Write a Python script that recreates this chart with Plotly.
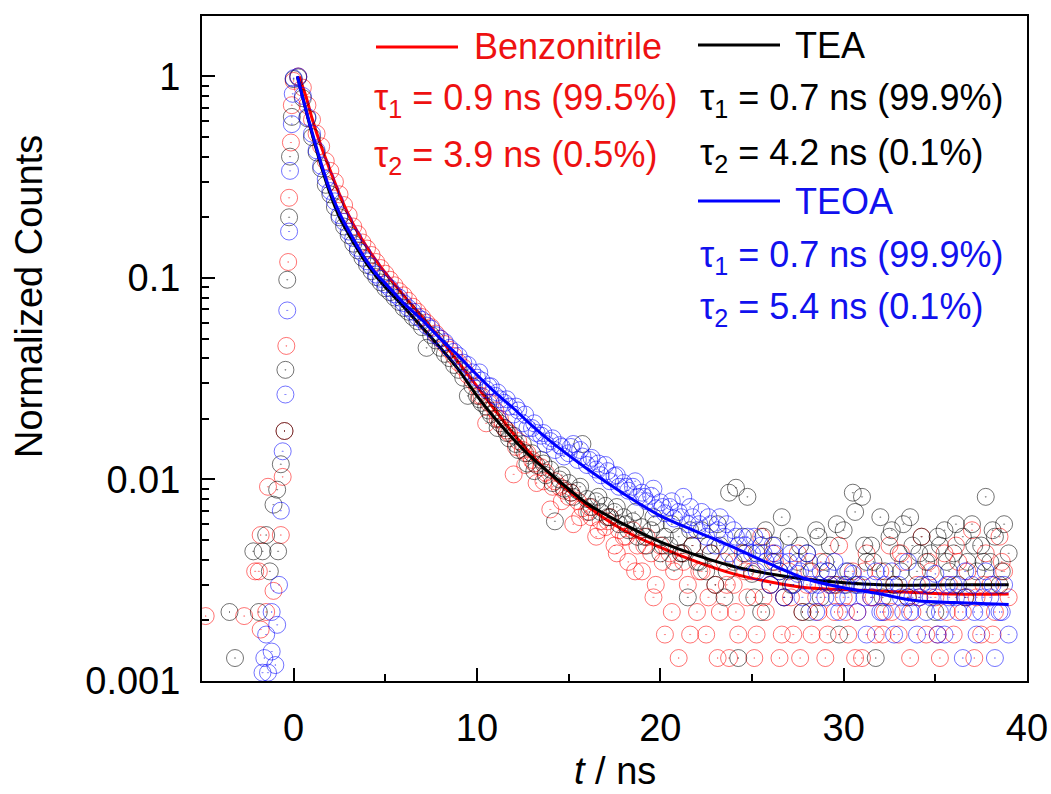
import plotly.graph_objects as go

# ---------------- data ----------------
# common decay time grid (ns)
t_decay = [
    0.00, 0.25, 0.50, 0.75, 1.00, 1.25, 1.50, 1.75,
    2.00, 2.25, 2.50, 2.75, 3.00, 3.25, 3.50, 3.75,
    4.00, 4.25, 4.50, 4.75, 5.00, 5.25, 5.50, 5.75,
    6.00, 6.25, 6.50, 6.75, 7.00, 7.25, 7.50, 7.75,
    8.00, 8.25, 8.50, 8.75, 9.00, 9.25, 9.50, 9.75,
    10.00, 10.25, 10.50, 10.75, 11.00, 11.25, 11.50, 11.75,
    12.00, 12.25, 12.50, 12.75, 13.00, 13.25, 13.50, 13.75,
    14.00, 14.25, 14.50, 14.75, 15.00, 15.25, 15.50, 15.75,
    16.00, 16.25, 16.50, 16.75, 17.00, 17.25, 17.50, 17.75,
    18.00, 18.25, 18.50, 18.75, 19.00, 19.25, 19.50, 19.75,
    20.00, 20.25, 20.50, 20.75, 21.00, 21.25, 21.50, 21.75,
    22.00, 22.25, 22.50, 22.75, 23.00, 23.25, 23.50, 23.75,
    24.00, 24.25, 24.50, 24.75, 25.00, 25.25, 25.50, 25.75,
    26.00, 26.25, 26.50, 26.75, 27.00, 27.25, 27.50, 27.75,
    28.00, 28.25, 28.50, 28.75, 29.00, 29.25, 29.50, 29.75,
    30.00, 30.25, 30.50, 30.75, 31.00, 31.25, 31.50, 31.75,
    32.00, 32.25, 32.50, 32.75, 33.00, 33.25, 33.50, 33.75,
    34.00, 34.25, 34.50, 34.75, 35.00, 35.25, 35.50, 35.75,
    36.00, 36.25, 36.50, 36.75, 37.00, 37.25, 37.50, 37.75,
    38.00, 38.25, 38.50, 38.75, 39.00,
]

benz_counts = [
    0.95, 1.00, 0.88, 0.72, 0.61, 0.52, 0.45, 0.38,
    0.34, 0.30, 0.26, 0.23, 0.205, 0.18, 0.165, 0.15,
    0.14, 0.13, 0.12, 0.112, 0.105, 0.098, 0.092, 0.086,
    0.082, 0.077, 0.072, 0.068, 0.064, 0.060, 0.057, 0.053,
    0.050, 0.047, 0.044, 0.041, 0.038, 0.036, 0.033, 0.031,
    0.029, 0.026, 0.019, 0.024, 0.022, 0.020, 0.018, 0.017,
    0.0106, 0.0155, 0.0140, 0.0135, 0.0125, 0.0096, 0.0115, 0.0108,
    0.0071, 0.0098, 0.0092, 0.0088, 0.0082, 0.0060, 0.0078, 0.0072,
    0.0069, 0.0065, 0.0052, 0.0062, 0.0058, 0.0065, 0.0047, 0.0056,
    0.0052, 0.0039, 0.0056, 0.0047, 0.0035, 0.0052, 0.0043, 0.0030,
    0.0047, 0.0017, 0.0043, 0.0035, 0.0013, 0.0039, 0.0030, 0.0047,
    0.0022, 0.0035, 0.0017, 0.0043, 0.0030, 0.0022, 0.0039, 0.0013,
    0.0030, 0.0017, 0.0043, 0.0026, 0.0035, 0.0017, 0.0052, 0.0022,
    0.0030, 0.0039, 0.0013, 0.0026, 0.0035, 0.0017, 0.0043, 0.0022,
    0.0030, 0.0017, 0.0026, 0.0039, 0.0013, 0.0030, 0.0022, 0.0047,
    0.0026, 0.0017, 0.0035, 0.0022, 0.0013, 0.0043, 0.0026, 0.0017,
    0.0035, 0.0022, 0.0047, 0.0030, 0.0017, 0.0039, 0.0026, 0.0022,
    0.0030, 0.0052, 0.0017, 0.0035, 0.0026, 0.0013, 0.0043, 0.0030,
    0.0017, 0.0039, 0.0022, 0.0035, 0.0056, 0.0026, 0.0017, 0.0043,
    0.0030, 0.0022, 0.0052, 0.0035, 0.0026,
]

tea_counts = [
    0.97, 0.99, 0.78, 0.62, 0.50, 0.42, 0.35, 0.29,
    0.26, 0.225, 0.20, 0.18, 0.163, 0.148, 0.137, 0.126,
    0.116, 0.108, 0.101, 0.095, 0.089, 0.085, 0.080, 0.076,
    0.071, 0.068, 0.064, 0.061, 0.057, 0.045, 0.052, 0.049,
    0.045, 0.042, 0.040, 0.037, 0.035, 0.032, 0.026, 0.029,
    0.026, 0.024, 0.023, 0.021, 0.020, 0.019, 0.018, 0.016,
    0.0165, 0.014, 0.015, 0.012, 0.0135, 0.0118, 0.0125, 0.0105,
    0.0112, 0.0062, 0.0100, 0.0090, 0.0096, 0.0082, 0.0088, 0.0150,
    0.0080, 0.0073, 0.0078, 0.0069, 0.0074, 0.0065, 0.0069, 0.0060,
    0.0065, 0.0056, 0.0062, 0.0052, 0.0058, 0.0047, 0.0056, 0.0060,
    0.0043, 0.0052, 0.0047, 0.0039, 0.0052, 0.0043, 0.0026, 0.0047,
    0.0039, 0.0056, 0.0035, 0.0043, 0.0030, 0.0047, 0.0026, 0.0086,
    0.0039, 0.0013, 0.0052, 0.0082, 0.0034, 0.0043, 0.0022, 0.0056,
    0.0030, 0.0047, 0.0035, 0.0026, 0.0052, 0.0030, 0.0039, 0.0022,
    0.0043, 0.0035, 0.0056, 0.0026, 0.0039, 0.0047, 0.0030, 0.0017,
    0.0056, 0.0035, 0.0086, 0.0030, 0.0082, 0.0039, 0.0047, 0.0013,
    0.0065, 0.0035, 0.0052, 0.0030, 0.0043, 0.0060, 0.0026, 0.0047,
    0.0035, 0.0052, 0.0039, 0.0043, 0.0022, 0.0047, 0.0056, 0.0035,
    0.0043, 0.0030, 0.0052, 0.0039, 0.0060, 0.0035, 0.0047, 0.0082,
    0.0039, 0.0052, 0.0030, 0.0060, 0.0043,
]

teoa_counts = [
    0.98, 1.00, 0.80, 0.63, 0.52, 0.43, 0.36, 0.31,
    0.27, 0.24, 0.205, 0.19, 0.17, 0.158, 0.141, 0.133,
    0.121, 0.114, 0.104, 0.099, 0.093, 0.089, 0.083, 0.080,
    0.075, 0.071, 0.068, 0.064, 0.062, 0.058, 0.056, 0.052,
    0.050, 0.048, 0.045, 0.043, 0.041, 0.038, 0.037, 0.034,
    0.032, 0.031, 0.028, 0.029, 0.026, 0.025, 0.024, 0.023,
    0.021, 0.022, 0.019, 0.018, 0.018, 0.017, 0.0165, 0.015,
    0.0155, 0.014, 0.0148, 0.013, 0.0135, 0.015, 0.0125, 0.013,
    0.0118, 0.0128, 0.0112, 0.0105, 0.0118, 0.0098, 0.0104, 0.0092,
    0.0096, 0.0088, 0.0092, 0.0082, 0.0086, 0.0078, 0.0083, 0.0072,
    0.0077, 0.0068, 0.0073, 0.0064, 0.0069, 0.0082, 0.0060, 0.0065,
    0.0056, 0.0069, 0.0052, 0.0060, 0.0047, 0.0065, 0.0052, 0.0043,
    0.0056, 0.0047, 0.0039, 0.0052, 0.0043, 0.0035, 0.0047, 0.0039,
    0.0030, 0.0043, 0.0035, 0.0026, 0.0039, 0.0030, 0.0034, 0.0026,
    0.0043, 0.0030, 0.0022, 0.0035, 0.0026, 0.0030, 0.0039, 0.0022,
    0.0030, 0.0026, 0.0034, 0.0022, 0.0030, 0.0017, 0.0026, 0.0035,
    0.0022, 0.0030, 0.0026, 0.0017, 0.0030, 0.0022, 0.0039, 0.0026,
    0.0017, 0.0030, 0.0022, 0.0026, 0.0034, 0.0022, 0.0017, 0.0026,
    0.0030, 0.0022, 0.0013, 0.0026, 0.0030, 0.0017, 0.0022, 0.0035,
    0.0026, 0.0013, 0.0022, 0.0030, 0.0017,
]

# interleaved (half-step) channels in the tail
t_tail = [
    10.125, 10.625, 11.125, 11.625, 12.125, 12.625, 13.125, 13.625,
    14.125, 14.625, 15.125, 15.625, 16.125, 16.625, 17.125, 17.625,
    18.125, 18.625, 19.125, 19.625, 20.125, 20.625, 21.125, 21.625,
    22.125, 22.625, 23.125, 23.625, 24.125, 24.625, 25.125, 25.625,
    26.125, 26.625, 27.125, 27.625, 28.125, 28.625, 29.125, 29.625,
    30.125, 30.625, 31.125, 31.625, 32.125, 32.625, 33.125, 33.625,
    34.125, 34.625, 35.125, 35.625, 36.125, 36.625, 37.125, 37.625,
    38.125, 38.625,
]
benz_tail = [
    0.026, 0.024, 0.020, 0.0175, 0.0145, 0.0118, 0.0120, 0.0098,
    0.0092, 0.0078, 0.0086, 0.0065, 0.0073, 0.0056, 0.0062, 0.0043,
    0.0052, 0.0035, 0.0047, 0.0026, 0.0039, 0.0022, 0.0043, 0.0017,
    0.0035, 0.0026, 0.0013, 0.0030, 0.0022, 0.0035, 0.0013, 0.0026,
    0.0043, 0.0017, 0.0026, 0.0013, 0.0035, 0.0022, 0.0017, 0.0030,
    0.0022, 0.0013, 0.0035, 0.0026, 0.0017, 0.0022, 0.0043, 0.0013,
    0.0026, 0.0039, 0.0017, 0.0022, 0.0047, 0.0026, 0.0013, 0.0030,
    0.0017, 0.0039,
]
tea_tail = [
    0.025, 0.022, 0.018, 0.017, 0.015, 0.0135, 0.011, 0.012,
    0.0096, 0.0105, 0.0086, 0.0092, 0.0069, 0.0082, 0.0065, 0.0073,
    0.0060, 0.0069, 0.0052, 0.0065, 0.0047, 0.0060, 0.0043, 0.0056,
    0.0039, 0.0047, 0.0060, 0.0035, 0.0091, 0.0043, 0.0026, 0.0052,
    0.0039, 0.0065, 0.0030, 0.0047, 0.0022, 0.0052, 0.0035, 0.0060,
    0.0030, 0.0069, 0.0047, 0.0039, 0.0026, 0.0056, 0.0035, 0.0065,
    0.0043, 0.0030, 0.0052, 0.0039, 0.0060, 0.0026, 0.0047, 0.0039,
    0.0056, 0.0035,
]
teoa_tail = [
    0.034, 0.029, 0.027, 0.025, 0.023, 0.021, 0.019, 0.017,
    0.016, 0.0145, 0.0145, 0.014, 0.0125, 0.012, 0.011, 0.0105,
    0.0092, 0.0098, 0.0082, 0.0090, 0.0073, 0.0078, 0.0065, 0.0073,
    0.0060, 0.0065, 0.0056, 0.0060, 0.0052, 0.0047, 0.0052, 0.0043,
    0.0047, 0.0039, 0.0043, 0.0035, 0.0039, 0.0030, 0.0035, 0.0026,
    0.0035, 0.0030, 0.0026, 0.0030, 0.0022, 0.0035, 0.0026, 0.0022,
    0.0026, 0.0030, 0.0017, 0.0030, 0.0026, 0.0035, 0.0022, 0.0026,
    0.0030, 0.0022,
]

# rising-edge / pre-pulse points
benz_rise_t = [-4.8, -2.7, -2.1, -1.9, -1.8, -1.8, -1.5, -1.4, -1.1, -0.7, -0.6, -0.5, -0.4, -0.3, -0.25, -0.15, -0.1]
benz_rise_y = [0.0021, 0.0021, 0.0035, 0.0035, 0.0018, 0.0053, 0.0022, 0.0092, 0.0028, 0.0053, 0.0103, 0.0174, 0.046, 0.12, 0.25, 0.47, 0.72]
tea_rise_t = [-3.5, -3.2, -2.2, -1.9, -1.7, -1.5, -1.3, -1.1, -0.9, -0.85, -0.7, -0.5, -0.45, -0.35, -0.25, -0.2, -0.1]
tea_rise_y = [0.0022, 0.0013, 0.0044, 0.0022, 0.0044, 0.0053, 0.0035, 0.0075, 0.0089, 0.0044, 0.0119, 0.0174, 0.035, 0.098, 0.20, 0.40, 0.63]
teoa_rise_t = [-1.7, -1.6, -1.5, -1.4, -1.2, -1.2, -1.0, -0.9, -0.8, -0.7, -0.6, -0.45, -0.35, -0.25, -0.2, -0.1, -0.05]
teoa_rise_y = [0.0011, 0.0013, 0.0017, 0.0011, 0.0014, 0.0022, 0.0012, 0.0019, 0.0030, 0.0070, 0.0138, 0.0264, 0.069, 0.17, 0.34, 0.58, 0.82]

# fitted bi-exponential curves
benz_fit_t = [0.3, 0.7, 1.0, 1.5, 2.0, 2.5, 3.0, 3.5, 4.0, 4.5, 5.0, 6.0, 7.0, 8.0, 9.0, 10.0, 11.0, 12.0, 13.0, 14.0, 16.0, 18.0, 20.0, 22.0, 24.0, 26.0, 28.0, 32.0, 36.0, 39.0]
benz_fit_y = [1.0, 0.78, 0.62, 0.45, 0.34, 0.26, 0.205, 0.168, 0.142, 0.122, 0.106, 0.082, 0.064, 0.050, 0.038, 0.029, 0.022, 0.0168, 0.0132, 0.0106, 0.0074, 0.0056, 0.0046, 0.0039, 0.0034, 0.0031, 0.0029, 0.0028, 0.0027, 0.0027]
tea_fit_t = [0.2, 0.6, 1.0, 1.5, 2.0, 2.5, 3.0, 3.5, 4.0, 4.5, 5.0, 6.0, 7.0, 8.0, 9.0, 10.0, 11.0, 12.0, 13.0, 14.0, 16.0, 18.0, 20.0, 22.0, 24.0, 26.0, 28.0, 32.0, 36.0, 39.0]
tea_fit_y = [1.0, 0.72, 0.52, 0.36, 0.26, 0.20, 0.165, 0.138, 0.117, 0.102, 0.090, 0.072, 0.057, 0.045, 0.035, 0.026, 0.020, 0.0158, 0.0128, 0.0107, 0.0076, 0.0060, 0.0049, 0.0042, 0.0037, 0.0034, 0.0032, 0.0030, 0.0030, 0.0030]
teoa_fit_t = [0.2, 0.6, 1.0, 1.5, 2.0, 2.5, 3.0, 3.5, 4.0, 4.5, 5.0, 6.0, 7.0, 8.0, 9.0, 10.0, 11.0, 12.0, 13.0, 14.0, 16.0, 18.0, 20.0, 22.0, 24.0, 26.0, 28.0, 30.0, 32.0, 34.0, 36.0, 39.0]
teoa_fit_y = [1.0, 0.72, 0.53, 0.37, 0.27, 0.21, 0.172, 0.143, 0.121, 0.105, 0.094, 0.075, 0.062, 0.050, 0.041, 0.033, 0.027, 0.0225, 0.0185, 0.0155, 0.0113, 0.0085, 0.0066, 0.0055, 0.0046, 0.0038, 0.0032, 0.0029, 0.0027, 0.0025, 0.00245, 0.0024]

series = [
    ("Benzonitrile", benz_rise_t, benz_rise_y, benz_counts, benz_tail, benz_fit_t, benz_fit_y,
     "rgba(255,0,0,0.55)", "#ff0000"),
    ("TEA", tea_rise_t, tea_rise_y, tea_counts, tea_tail, tea_fit_t, tea_fit_y,
     "rgba(0,0,0,0.55)", "#000000"),
    ("TEOA", teoa_rise_t, teoa_rise_y, teoa_counts, teoa_tail, teoa_fit_t, teoa_fit_y,
     "rgba(0,0,255,0.55)", "#0000ff"),
]

FONT = "Liberation Sans, Arial, Helvetica, sans-serif"

fig = go.Figure()
for name, rt, ry, yc, ytl, ft, fy, mcol, lcol in series:
    fig.add_trace(go.Scatter(
        x=rt + t_decay + t_tail, y=ry + yc + ytl, mode="markers", name=name + " data",
        marker=dict(symbol="circle-open-dot", size=17,
                    line=dict(color=mcol, width=1), color=mcol),
        showlegend=False, cliponaxis=True))
    fig.add_trace(go.Scatter(
        x=ft, y=fy, mode="lines", name=name + " fit",
        line=dict(color=lcol, width=3, shape="spline", smoothing=0.8),
        showlegend=False))

# ---------------- layout ----------------
L, R, T, B = 202, 24, 16, 113
W, H = 1051, 794
pw, ph = W - L - R, H - T - B


def px(x):
    return (x - L) / pw


def py(y):
    return (H - B - y) / ph


minor_y = [m * d for d in (0.001, 0.01, 0.1, 1) for m in range(2, 10) if m * d < 2.0]

fig.update_layout(
    width=W, height=H,
    margin=dict(l=L, r=R, t=T, b=B, autoexpand=False),
    paper_bgcolor="white", plot_bgcolor="white",
    font=dict(family=FONT, size=38, color="black"),
    showlegend=False,
    xaxis=dict(
        range=[-5, 40], showgrid=False, zeroline=False, automargin=False,
        showline=True, linecolor="black", linewidth=2, mirror=True,
        ticks="inside", ticklen=13, tickwidth=2, tickcolor="black",
        tickvals=[0, 10, 20, 30, 40], ticklabelstandoff=12,
        tickfont=dict(size=38, family=FONT),
        minor=dict(ticks="inside", ticklen=7, tickwidth=2, tickcolor="black",
                   tickmode="array", tickvals=[5, 15, 25, 35], showgrid=False),
    ),
    yaxis=dict(
        type="log", range=[-3, 0.3], showgrid=False, zeroline=False, automargin=False,
        showline=True, linecolor="black", linewidth=2, mirror=True,
        ticks="inside", ticklen=13, tickwidth=2, tickcolor="black",
        tickvals=[0.001, 0.01, 0.1, 1], ticktext=["0.001", "0.01", "0.1", "1"],
        ticklabelstandoff=12,
        tickfont=dict(size=38, family=FONT),
        minor=dict(ticks="inside", ticklen=7, tickwidth=2, tickcolor="black",
                   tickmode="array", tickvals=minor_y, showgrid=False),
    ),
)

ann = []
ann.append(dict(x=px(29), y=py(297), xref="paper", yref="paper", text="Normalized Counts",
                textangle=-90, showarrow=False, font=dict(size=38, family=FONT),
                xanchor="center", yanchor="middle"))
ann.append(dict(x=px(615), y=py(771), xref="paper", yref="paper", text="<i>t</i> / ns",
                showarrow=False, font=dict(size=38, family=FONT),
                xanchor="center", yanchor="middle"))

LEG = 36
legend_rows = [
    (472, 47, "Benzonitrile", "#ee1111"),
    (372, 100, "τ<sub>1</sub> = 0.9 ns (99.5%)", "#ee1111"),
    (372, 157, "τ<sub>2</sub> = 3.9 ns (0.5%)", "#ee1111"),
    (793, 45, "TEA", "#000000"),
    (698, 100, "τ<sub>1</sub> = 0.7 ns (99.9%)", "#000000"),
    (698, 155, "τ<sub>2</sub> = 4.2 ns (0.1%)", "#000000"),
    (793, 201, "TEOA", "#1111ee"),
    (698, 257, "τ<sub>1</sub> = 0.7 ns (99.9%)", "#1111ee"),
    (698, 309, "τ<sub>2</sub> = 5.4 ns (0.1%)", "#1111ee"),
]
for xl, yc, txt, col in legend_rows:
    ann.append(dict(x=px(xl), y=py(yc), xref="paper", yref="paper", text=txt,
                    showarrow=False, xanchor="left", yanchor="middle",
                    font=dict(size=LEG, family=FONT, color=col)))
fig.update_layout(annotations=ann)

shapes = []
for x0, x1, yc, col in [(376, 458, 47, "#ff0000"), (698, 780, 45, "#000000"), (698, 780, 201, "#0000ff")]:
    shapes.append(dict(type="line", xref="paper", yref="paper",
                       x0=px(x0), x1=px(x1), y0=py(yc), y1=py(yc),
                       line=dict(color=col, width=3)))
fig.update_layout(shapes=shapes)

fig.write_html("out.html")
